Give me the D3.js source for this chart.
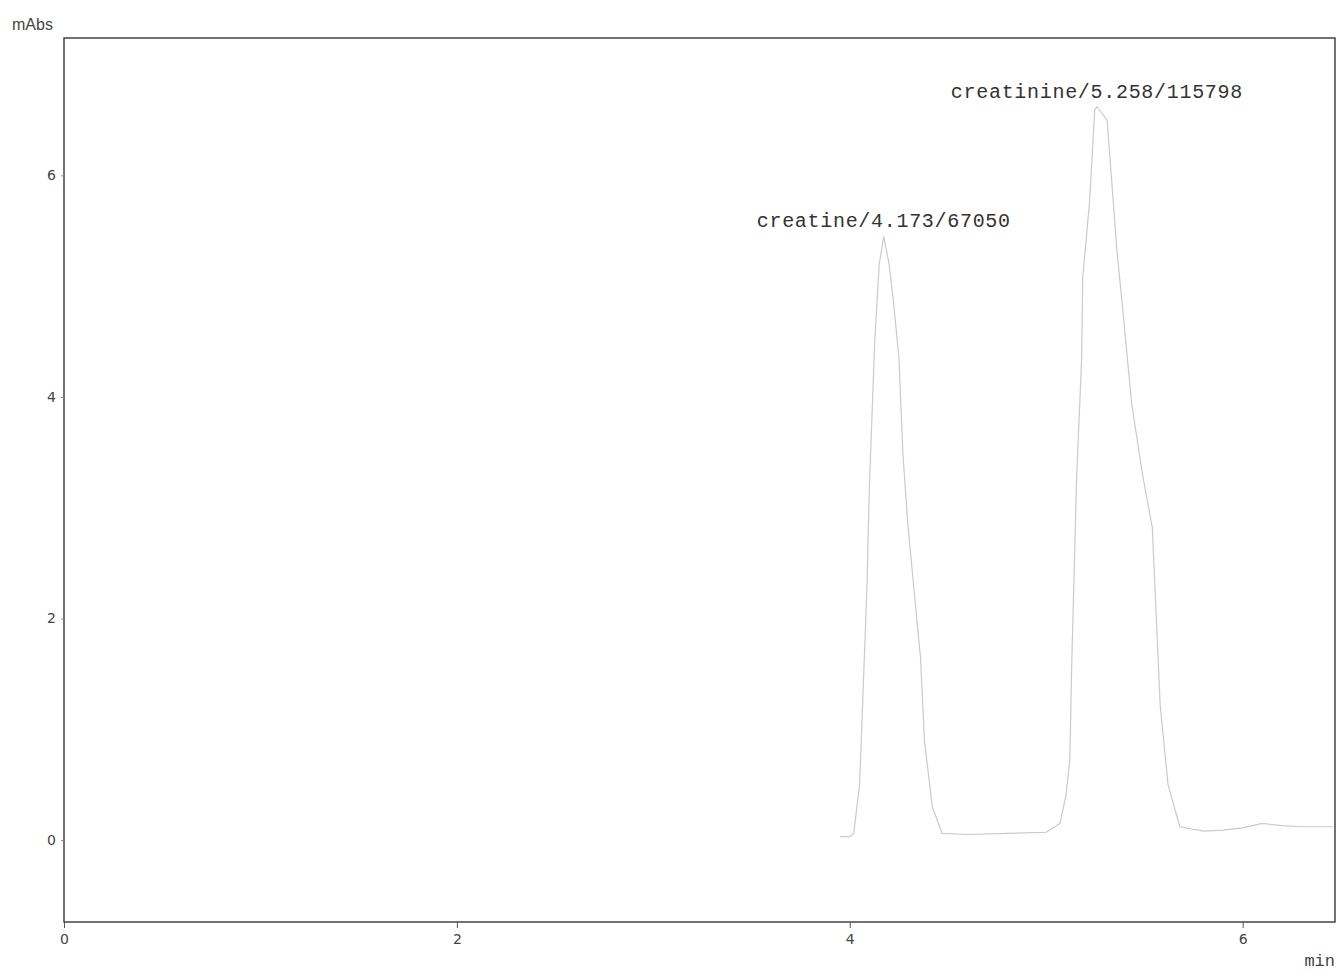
<!DOCTYPE html>
<html>
<head>
<meta charset="utf-8">
<script src="https://cdn.jsdelivr.net/npm/d3@7"></script>
<style>
  body { margin: 0; background: #fff; }
  svg { display: block; }
  .tick text { font-family: "DejaVu Sans", sans-serif; font-size: 14px; fill: #444; }
  .peak-label { font-family: "Liberation Mono", monospace; font-size: 20px; fill: #333; letter-spacing: 0.7px; }
</style>
</head>
<body>
<svg width="1338" height="972"></svg>
<script>
// chromatogram trace (time in min, absorbance in mAbs)
const times = [3.95, 4.0, 4.02, 4.05, 4.066, 4.087, 4.10, 4.127, 4.15, 4.173, 4.20, 4.22, 4.25, 4.27, 4.295, 4.33, 4.36, 4.38, 4.42, 4.47,
               4.6, 4.8, 5.0, 5.07, 5.10, 5.12, 5.13, 5.155, 5.18, 5.186, 5.22, 5.247, 5.258, 5.31, 5.36, 5.39, 5.435, 5.49, 5.54, 5.58, 5.62, 5.68,
               5.8, 5.9, 6.0, 6.1, 6.2, 6.3, 6.46];
const mAbs = [0.03, 0.03, 0.06, 0.5, 1.26, 2.26, 3.2, 4.5, 5.2, 5.45, 5.2, 4.9, 4.36, 3.5, 2.86, 2.2, 1.65, 0.9, 0.3, 0.06,
              0.05, 0.06, 0.07, 0.15, 0.4, 0.72, 1.6, 3.28, 4.33, 5.08, 5.75, 6.59, 6.62, 6.5, 5.32, 4.78, 3.94, 3.3, 2.82, 1.22, 0.5, 0.12,
              0.08, 0.09, 0.11, 0.15, 0.13, 0.12, 0.12];

const peakNames = ["creatine", "creatinine"];
const peakTimes = [4.173, 5.258];
const peakHeights = [5.45, 6.62];
const peakAreas = [67050, 115798];

const xTicks = [0, 2, 4, 6];
const yTicks = [0, 2, 4, 6];

const svg = d3.select("svg");
const plotLeft = 64, plotRight = 1335, plotTop = 38, plotBottom = 922;

const x = d3.scaleLinear().domain([0, 6.47]).range([plotLeft, plotRight]);
const y = d3.scaleLinear().domain([-0.74, 7.24]).range([plotBottom, plotTop]);

// frame
svg.append("rect")
    .attr("x", plotLeft).attr("y", plotTop)
    .attr("width", plotRight - plotLeft).attr("height", plotBottom - plotTop)
    .attr("fill", "none").attr("stroke", "#444").attr("stroke-width", 1.5);

svg.append("g")
    .attr("transform", `translate(0,${plotBottom})`)
    .call(d3.axisBottom(x).tickValues(xTicks).tickFormat(d3.format("d")).tickSize(6).tickPadding(6))
    .call(g => g.select(".domain").remove())
    .call(g => g.selectAll(".tick line").attr("stroke", "#555"));

svg.append("g")
    .attr("transform", `translate(${plotLeft},0)`)
    .call(d3.axisLeft(y).tickValues(yTicks).tickFormat(d3.format("d")).tickSize(3).tickPadding(5))
    .call(g => g.select(".domain").remove())
    .call(g => g.selectAll(".tick line").attr("stroke", "#888"));

// axis units
svg.append("text")
    .attr("x", 12).attr("y", 30)
    .attr("font-family", "Liberation Sans, sans-serif").attr("font-size", 16).attr("fill", "#444")
    .text("mAbs");
svg.append("text")
    .attr("x", 1335).attr("y", 966).attr("text-anchor", "end")
    .attr("font-family", "Liberation Mono, monospace").attr("font-size", 17).attr("fill", "#444")
    .text("min");

// trace
const line = d3.line()
    .x((d, i) => x(times[i]))
    .y(d => y(d));

svg.append("path")
    .datum(mAbs)
    .attr("d", line)
    .attr("fill", "none")
    .attr("stroke", "#cacaca")
    .attr("stroke-width", 1.2);

// peak labels
svg.selectAll(".peak-label")
    .data(peakNames)
    .enter().append("text")
    .attr("class", "peak-label")
    .attr("x", (d, i) => x(peakTimes[i]))
    .attr("y", (d, i) => y(peakHeights[i]) - 9)
    .attr("text-anchor", "middle")
    .text((d, i) => `${d}/${peakTimes[i].toFixed(3)}/${peakAreas[i]}`);
</script>
</body>
</html>
